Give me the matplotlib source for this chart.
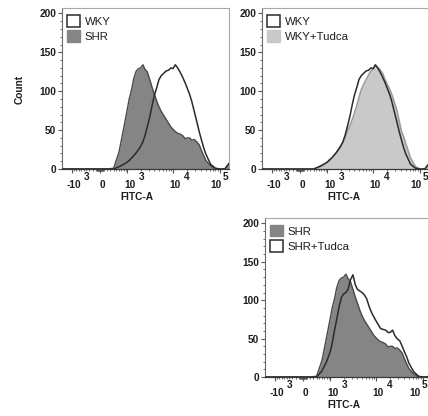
import numpy as np
import matplotlib
matplotlib.use("Agg")
import matplotlib.pyplot as plt
from matplotlib.patches import Patch
from matplotlib.ticker import FixedLocator, MultipleLocator, NullFormatter

plt.rcParams["font.family"] = ["Liberation Sans", "DejaVu Sans"]

# FITC-A channel values (bin positions) and event counts
fitc = [-1700, 0, 200, 400, 600, 800, 1000, 1100, 1250, 1400, 1600, 1800, 2000,
        2250, 2500, 2800, 3200, 3600, 4000, 4500, 5000, 5600, 6300, 7100, 8000,
        9000, 10000, 11200, 12500, 14000, 16000, 18000, 20000, 22500, 25000,
        28000, 32000, 36000, 40000, 45000, 50000, 63000, 80000, 100000, 126000,
        160000]
wky = [0, 0, 0, 0, 3, 6, 9, 11, 14, 17, 21, 25, 29,
       35, 43, 54, 68, 83, 95, 105, 115, 120, 123, 126, 127,
       130, 129, 134, 130, 125, 118, 111, 104, 96, 87,
       75, 61, 48, 38, 27, 19, 6, 1, 0, 0,
       8]
shr = [0, 0, 0, 1, 22, 52, 78, 90, 102, 116, 126, 129, 130,
       134, 128, 125, 114, 104, 96, 87, 80, 74, 69, 64, 59,
       54, 51, 48, 46, 45, 43, 39, 40, 40, 37,
       38, 35, 31, 24, 17, 11, 4, 0, 0, 0,
       8]
wky_tudca = [0, 0, 0, 0, 2, 5, 9, 12, 14, 17, 21, 26, 30,
             34, 40, 48, 56, 64, 72, 82, 92, 102, 109, 115, 121,
             126, 128, 133, 131, 128, 123, 115, 109, 103, 96,
             87, 76, 62, 49, 41, 32, 14, 3, 0, 0,
             8]
shr_tudca = [0, 0, 0, 0, 8, 20, 34, 44, 61, 75, 92, 104, 108,
             110, 114, 126, 133, 120, 114, 112, 110, 107, 102, 92, 84,
             78, 73, 68, 63, 62, 61, 58, 58, 61, 54,
             50, 47, 40, 33, 26, 18, 7, 1, 0, 0,
             8]

XT = [-1000, 0, 1000, 10000, 100000]
XT_BASE = ["-10", "0", "10", "10", "10"]
XT_SUP = ["3", "", "3", "4", "5"]
YT = [0, 50, 100, 150, 200]

W = 558.0
fwd = lambda x: np.arcsinh(np.asarray(x, dtype=float) / W)
inv = lambda u: W * np.sinh(u)

PX = 0.72  # points per pixel at 100 dpi
DARK = "#2b2b2b"
GREY = "#858585"
LIGHT = "#c9c9c9"
TXT = "#1e1e1e"
tkw = dict(fontsize=7.3, fontweight="bold", color=TXT)

# label offsets (px) of base right edge / superscript left edge from the tick
BASE_DX = [9, 2, 8, 8, 1.5]
SUP_DX = [11.5, 0, 11, 10.5, 3]

fig = plt.figure(figsize=(4.28, 4.16), dpi=100)


def setup(ax, label_x, last_shift=0):
    ax.set_xscale("function", functions=(fwd, inv))
    ax.set_xlim(-1750, 155000)
    ax.set_ylim(0, 207)
    minors = sorted({s * k * 10 ** n for n in (1, 2, 3, 4) for k in range(1, 10)
                     for s in (1, -1)} - set(XT))
    minors = [m for m in minors if -1750 < m < 155000]
    ax.xaxis.set_major_locator(FixedLocator(XT))
    ax.xaxis.set_minor_locator(FixedLocator(minors))
    ax.xaxis.set_major_formatter(NullFormatter())
    ax.yaxis.set_major_locator(FixedLocator(YT))
    ax.yaxis.set_minor_locator(MultipleLocator(10))
    ax.tick_params(axis="both", which="major", direction="out", length=3,
                   width=0.8, color="#555555", pad=1.2, labelsize=7.3, labelcolor=TXT)
    ax.tick_params(axis="both", which="minor", direction="out", length=1.6,
                   width=0.6, color="#555555")
    for lab in ax.get_yticklabels():
        lab.set_fontweight("bold")
    for side in ("top", "right"):
        ax.spines[side].set_color("#a8a8a8")
        ax.spines[side].set_linewidth(0.8)
    ax.spines["left"].set_color("#6a6a6a")
    ax.spines["bottom"].set_color("#3a3a3a")
    ax.spines["left"].set_linewidth(0.8)
    ax.spines["bottom"].set_linewidth(0.9)
    for i, (v, base, sup, bdx, sdx) in enumerate(zip(XT, XT_BASE, XT_SUP, BASE_DX, SUP_DX)):
        shift = last_shift if i == len(XT) - 1 else 0
        ax.annotate(base, (v, 0), xycoords=("data", "axes fraction"),
                    xytext=((bdx + shift) * PX, -10.5 * PX), textcoords="offset points",
                    ha="right" if sup else "center", va="top", **tkw)
        if sup:
            ax.annotate(sup, (v, 0), xycoords=("data", "axes fraction"),
                        xytext=((sdx + shift) * PX, -3.5 * PX), textcoords="offset points",
                        ha="left", va="top", **tkw)
    ax.annotate("FITC-A", (label_x, 0), xycoords="axes fraction",
                xytext=(0, -28 * PX), textcoords="offset points",
                ha="center", va="center", **tkw)


def legend(ax, handles, labels):
    ax.legend(handles, labels, loc="upper left", bbox_to_anchor=(0.03, 0.955),
              borderaxespad=0, borderpad=0, frameon=False, fontsize=8.2,
              handlelength=1.15, handleheight=1.15, handletextpad=0.4,
              labelspacing=0.32, labelcolor=TXT)


def px_rect(left, top, width, height):
    return [left / 428, 1 - (top + height) / 416, width / 428, height / 416]


# Panel 1: WKY vs SHR
ax1 = fig.add_axes(px_rect(62, 8, 167, 161))
ax1.fill_between(fitc, wky, color="white", zorder=1)
ax1.fill_between(fitc, shr, color=GREY, lw=0, zorder=2)
ax1.plot(fitc, shr, color="#4a4a4a", lw=1.0, zorder=3)
ax1.plot(fitc, wky, color=DARK, lw=1.1, zorder=4)
setup(ax1, 0.45)
legend(ax1, [Patch(facecolor="white", edgecolor=DARK, lw=1.1),
             Patch(facecolor=GREY, edgecolor=GREY)], ["WKY", "SHR"])

# Panel 2: WKY vs WKY+Tudca
ax2 = fig.add_axes(px_rect(262, 8, 167, 161))
ax2.fill_between(fitc, wky_tudca, color=LIGHT, lw=0, zorder=1)
ax2.plot(fitc, wky_tudca, color="#9a9a9a", lw=1.1, zorder=2)
ax2.plot(fitc, wky, color=DARK, lw=1.1, zorder=3)
setup(ax2, 0.49)
legend(ax2, [Patch(facecolor="white", edgecolor=DARK, lw=1.1),
             Patch(facecolor=LIGHT, edgecolor=LIGHT)], ["WKY", "WKY+Tudca"])

# Panel 3: SHR vs SHR+Tudca
ax3 = fig.add_axes(px_rect(265, 218, 167, 159))
ax3.fill_between(fitc, shr_tudca, color="white", zorder=1)
ax3.fill_between(fitc, shr, color=GREY, lw=0, zorder=2)
ax3.plot(fitc, shr, color="#4a4a4a", lw=1.0, zorder=3)
ax3.plot(fitc, shr_tudca, color=DARK, lw=1.1, zorder=4)
setup(ax3, 0.47, last_shift=-4)
legend(ax3, [Patch(facecolor=GREY, edgecolor=GREY),
             Patch(facecolor="white", edgecolor=DARK, lw=1.1)], ["SHR", "SHR+Tudca"])

fig.text(20 / 428, 1 - 89 / 416, "Count", rotation=90, ha="center", va="center", **tkw)

fig.savefig("out.png", dpi=100)
